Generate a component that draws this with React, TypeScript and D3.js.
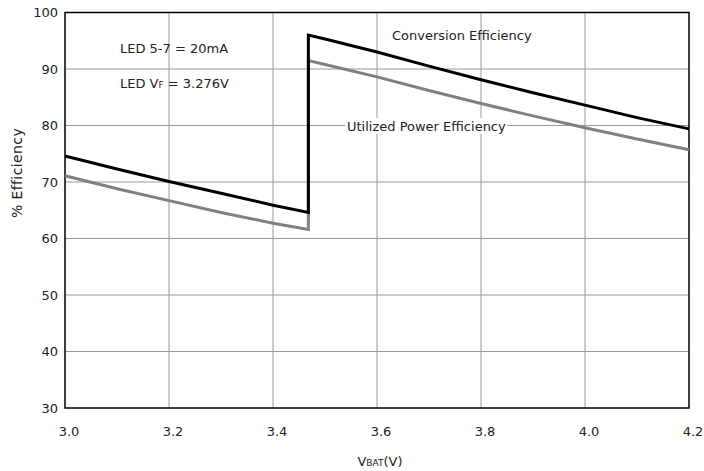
import React from "react";
import * as d3 from "d3";

const vbat = [3.0, 3.1, 3.2, 3.3, 3.4, 3.468, 3.468, 3.5, 3.6, 3.7, 3.8, 3.9, 4.0, 4.1, 4.2];
const conversion = [74.6, 72.3, 70.1, 68.0, 65.9, 64.6, 96.0, 95.3, 93.0, 90.5, 88.1, 85.8, 83.6, 81.4, 79.4];
const utilized = [71.1, 68.8, 66.7, 64.6, 62.7, 61.6, 91.5, 90.8, 88.6, 86.2, 83.9, 81.7, 79.6, 77.6, 75.7];
const xTicks = [3.0, 3.2, 3.4, 3.6, 3.8, 4.0, 4.2];
const yTicks = [30, 40, 50, 60, 70, 80, 90, 100];

const W = 704;
const H = 471;
const L = 65, R = 689, T = 12.5, B = 408;
const FONT = "DejaVu Sans, Verdana, sans-serif";

export default function App() {
  const x = d3.scaleLinear().domain([3.0, 4.2]).range([L, R]);
  const y = d3.scaleLinear().domain([30, 100]).range([B, T]);
  const line = (vals: number[]) =>
    d3.line<number>().x((_, i) => x(vbat[i])).y((d) => y(d))(vals) || "";

  return (
    <svg width={W} height={H} style={{ position: "absolute", left: 0, top: 0 }}>
      <rect width={W} height={H} fill="#fff" />
      {xTicks.slice(1, -1).map((t) => (
        <line key={"gx" + t} x1={x(t)} x2={x(t)} y1={T} y2={B} stroke="#999" strokeWidth={1} />
      ))}
      {yTicks.slice(1, -1).map((t) => (
        <line key={"gy" + t} x1={L} x2={R} y1={y(t)} y2={y(t)} stroke="#999" strokeWidth={1} />
      ))}
      <rect x={L} y={T} width={R - L} height={B - T} fill="none" stroke="#000" strokeWidth={1.5} />
      <path d={line(utilized)} fill="none" stroke="#808080" strokeWidth={3} strokeLinejoin="miter" />
      <path d={line(conversion)} fill="none" stroke="#000" strokeWidth={3} strokeLinejoin="miter" />
      {yTicks.map((t) => (
        <text key={"ty" + t} x={58} y={y(t)} dy="0.35em" textAnchor="end" fontFamily={FONT} fontSize={13} fill="#222">
          {t}
        </text>
      ))}
      {xTicks.map((t) => (
        <text key={"tx" + t} x={x(t) + 4} y={436} textAnchor="middle" fontFamily={FONT} fontSize={13} fill="#222">
          {t.toFixed(1)}
        </text>
      ))}
      <text transform="translate(22,173) rotate(-90)" textAnchor="middle" fontFamily={FONT} fontSize={14} letterSpacing={0.4} fill="#222">
        % Efficiency
      </text>
      <text x={380} y={466} textAnchor="middle" fontFamily={FONT} fontSize={13} fill="#222">
        V<tspan fontSize={9}>BAT</tspan>(V)
      </text>
      <text x={120} y={53} fontFamily={FONT} fontSize={13} fill="#222">LED 5-7 = 20mA</text>
      <text x={120} y={88} fontFamily={FONT} fontSize={13} fill="#222">
        LED V<tspan fontSize={9}>F</tspan> = 3.276V
      </text>
      <text x={392} y={40} fontFamily={FONT} fontSize={13} fill="#222">Conversion Efficiency</text>
      <rect x={345} y={118} width={162} height={16} fill="#fff" />
      <text x={347} y={131} fontFamily={FONT} fontSize={13} fill="#222">Utilized Power Efficiency</text>
    </svg>
  );
}
